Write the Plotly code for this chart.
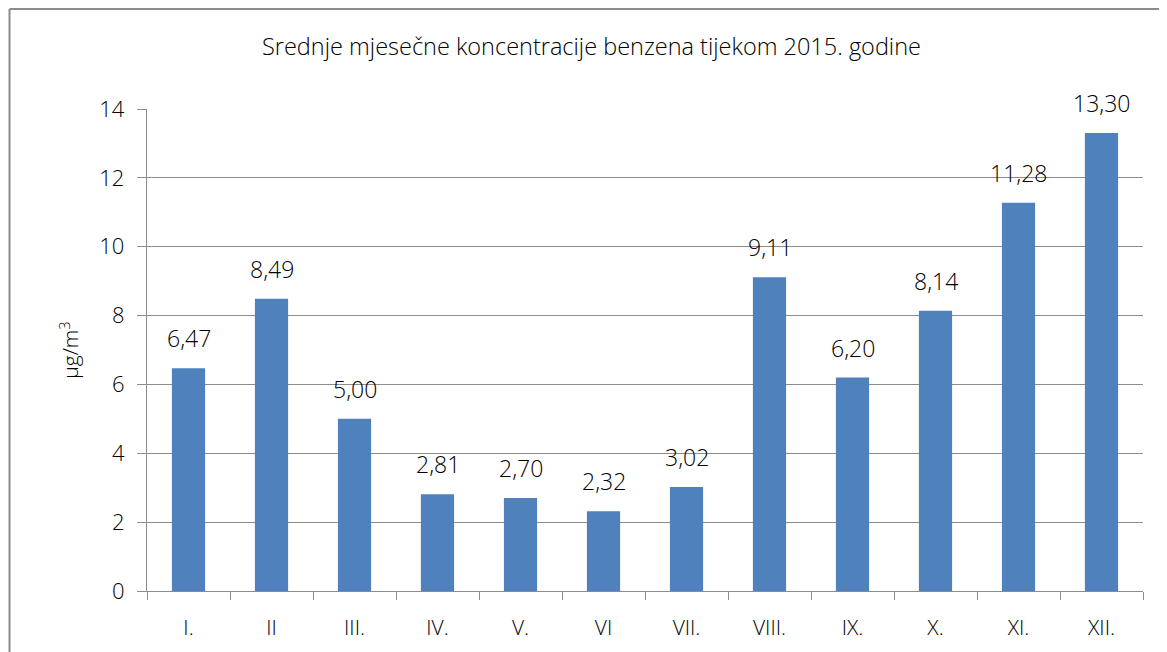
import plotly.graph_objects as go

months = ["I.", "II", "III.", "IV.", "V.", "VI", "VII.", "VIII.", "IX.", "X.", "XI.", "XII."]
values = [6.47, 8.49, 5.00, 2.81, 2.70, 2.32, 3.02, 9.11, 6.20, 8.14, 11.28, 13.30]
y_ticks = [0, 2, 4, 6, 8, 10, 12, 14]

# page has an 8px body margin; work in reference pixel coordinates
OFF = 8
W, H = 1167 - OFF, 652 - OFF
L, T = 147 - OFF, 109 - OFF
PR, PB = 1143 - OFF, 591 - OFF
R, B = W - PR, H - PB
pw, ph = PR - L, PB - T

def px_x(p):
    return (p - OFF - L) / pw

def px_y(p):
    return (PB - (p - OFF)) / ph

font_family = "Open Sans"
txt_color = "#000000"
grey = "#8c8c8c"

fig = go.Figure()
fig.add_trace(go.Bar(
    x=months, y=values,
    marker=dict(color="#4F81BD", line=dict(width=0)),
    hoverinfo="x+y",
))

for m, v in zip(months, values):
    fig.add_annotation(
        x=m, y=v, xref="x", yref="y",
        text=f"{v:.2f}".replace(".", ","),
        showarrow=False, yanchor="bottom", yshift=12,
        font=dict(family=font_family, size=23, color=txt_color, weight=300),
    )

fig.add_annotation(
    x=px_x(591), y=px_y(46), xref="paper", yref="paper",
    text="Srednje mjesečne koncentracije benzena tijekom 2015. godine",
    showarrow=False, xanchor="center", yanchor="middle",
    font=dict(family=font_family, size=23.5, color=txt_color, weight=300),
)

# outer chart frame
frame_x0, frame_x1, frame_y0, frame_y1 = 9.5, 1160, 9, 700
for (xa, ya, xb, yb) in [
    (frame_x0, frame_y0, frame_x1, frame_y0),
    (frame_x0, frame_y0, frame_x0, frame_y1),
    (frame_x1, frame_y0, frame_x1, frame_y1),
]:
    fig.add_shape(
        type="line", xref="paper", yref="paper",
        x0=px_x(xa), y0=px_y(ya), x1=px_x(xb), y1=px_y(yb),
        line=dict(color=grey, width=2),
    )

fig.update_layout(
    width=W, height=H,
    margin=dict(l=L, r=R, t=T, b=B, autoexpand=False),
    paper_bgcolor="white", plot_bgcolor="white",
    showlegend=False, bargap=0.6,
    font=dict(family=font_family, color=txt_color, weight=300),
    xaxis=dict(
        type="category", tickson="boundaries", ticks="outside", ticklen=8,
        tickcolor=grey, tickwidth=1.3, showline=True, linecolor=grey, linewidth=1.3,
        tickfont=dict(size=21, family=font_family, color=txt_color, weight=300),
        showgrid=False, ticklabelstandoff=18,
    ),
    yaxis=dict(
        range=[0, 14], tickvals=y_ticks, ticks="outside", ticklen=9,
        tickcolor=grey, tickwidth=1.3, showline=True, linecolor=grey, linewidth=1.3,
        showgrid=True, gridcolor=grey, gridwidth=1.3, zeroline=False,
        tickfont=dict(size=22, family=font_family, color=txt_color, weight=300),
        title=dict(text="μg/m<sup>3</sup>", standoff=14,
                   font=dict(size=21, family=font_family, color=txt_color, weight=300)),
        ticklabelstandoff=8,
    ),
)

fig.write_html("out.html")
